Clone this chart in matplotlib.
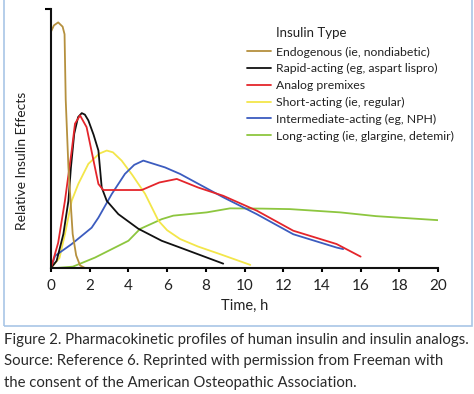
import matplotlib
matplotlib.use('Agg')
from matplotlib import pyplot as plt
from matplotlib.patches import Rectangle

plt.rcParams['font.family'] = ['Lato', 'DejaVu Sans']

# Curves (time in hours, relative effect)
endo_x = [0, 0.15, 0.37, 0.6, 0.7, 0.73, 0.76, 0.9, 1.12, 1.3, 1.5, 1.75]
endo_y = [0.94, 0.965, 0.977, 0.96, 0.93, 0.8, 0.67, 0.4, 0.135, 0.05, 0.01, 0]

rapid_x = [0, 0.29, 0.64, 0.9, 1.03, 1.2, 1.4, 1.59, 1.75, 1.93, 2.2, 2.45, 2.62, 2.88, 3.48,
           4.51, 5.72, 6.67, 8.9]
rapid_y = [0, 0.028, 0.135, 0.267, 0.4, 0.534, 0.6, 0.616, 0.61, 0.587, 0.53, 0.467, 0.32, 0.267, 0.214,
           0.156, 0.108, 0.081, 0.017]

premix_x = [0, 0.37, 0.72, 1.07, 1.24, 1.5, 1.84, 2.27, 2.45, 2.7, 4.69, 5.6, 6.5, 7.6, 8.9,
            10.63, 12.52, 14.76, 16.0]
premix_y = [0, 0.1, 0.267, 0.467, 0.574, 0.607, 0.56, 0.4, 0.334, 0.31, 0.31, 0.34, 0.354, 0.32, 0.287,
            0.228, 0.148, 0.095, 0.045]

short_x = [0, 0.44, 0.72, 1.07, 1.41, 1.93, 2.5, 2.88, 3.2, 3.65, 4.2, 4.86, 5.55, 6.0, 6.67,
           7.6, 8.73, 10.3]
short_y = [0, 0.04, 0.134, 0.267, 0.334, 0.414, 0.455, 0.467, 0.46, 0.427, 0.37, 0.295, 0.188, 0.15, 0.115,
           0.085, 0.055, 0.012]

inter_x = [0, 0.21, 1.07, 2.1, 2.45, 3.14, 3.82, 4.3, 4.77, 5.89, 6.67, 8.9, 10.63, 12.52, 14.76, 15.1]
inter_y = [0, 0.048, 0.095, 0.16, 0.2, 0.294, 0.374, 0.41, 0.427, 0.4, 0.374, 0.281, 0.214, 0.134, 0.081, 0.075]

long_x = [0, 0.3, 1.13, 2.27, 4.0, 4.6, 5.72, 6.32, 8.05, 9.25, 10.9, 12.35, 14.94, 16.8, 20]
long_y = [0, 0, 0.005, 0.041, 0.108, 0.155, 0.194, 0.208, 0.221, 0.237, 0.236, 0.234, 0.221, 0.206, 0.19]

labels = ['Endogenous (ie, nondiabetic)', 'Rapid-acting (eg, aspart lispro)',
          'Analog premixes', 'Short-acting (ie, regular)',
          'Intermediate-acting (eg, NPH)', 'Long-acting (ie, glargine, detemir)']
colors = ['#b5903e', '#111111', '#e4252b', '#f3e64a', '#3c5cbf', '#8dc63f']
xticks = [0, 2, 4, 6, 8, 10, 12, 14, 16, 18, 20]

caption = ['Figure 2. Pharmacokinetic profiles of human insulin and insulin analogs.',
           'Source: Reference 6. Reprinted with permission from Freeman with',
           'the consent of the American Osteopathic Association.']

fig = plt.figure(figsize=(4.74, 3.94), dpi=100)
ax = fig.add_axes([0.1076, 0.32, 0.8165, 0.657])

series = [(endo_x, endo_y), (rapid_x, rapid_y), (premix_x, premix_y),
          (short_x, short_y), (inter_x, inter_y), (long_x, long_y)]
# draw order: long first so the steep ones sit on top
order = [5, 3, 4, 1, 2, 0]
handles = {}
for i in order:
    xs, ys = series[i]
    h, = ax.plot(xs, ys, color=colors[i], lw=1.3, label=labels[i],
                 solid_joinstyle='round', solid_capstyle='round')
    handles[i] = h

ax.set_xlim(0, 20)
ax.set_ylim(0, 1.03)
ax.set_xticks(xticks)
ax.set_xticklabels([str(t) for t in xticks], fontsize=11, color='#222222')
ax.set_yticks([1.03])
ax.set_yticklabels([''])
ax.tick_params(axis='x', direction='out', length=3, width=1.5, pad=5)
ax.tick_params(axis='y', direction='out', length=4, width=1.5)
for s in ['top', 'right']:
    ax.spines[s].set_visible(False)
for s in ['left', 'bottom']:
    ax.spines[s].set_linewidth(1.5)
    ax.spines[s].set_color('#111111')
ax.set_xlabel('Time, h', fontsize=10.5, color='#222222', labelpad=4)
ax.set_ylabel('Relative Insulin Effects', fontsize=10, color='#222222')
ax.yaxis.set_label_coords(-0.06, 0.415)

leg = ax.legend([handles[i] for i in range(6)], labels,
                loc='upper left', bbox_to_anchor=(0.506, 0.855), frameon=False,
                fontsize=8.8, handlelength=2.0, handletextpad=0.4,
                labelspacing=0.47, borderpad=0, borderaxespad=0)
for t in leg.get_texts():
    t.set_color('#222222')
fig.text(276 / 474, 1 - 33 / 394, 'Insulin Type', fontsize=9.5, color='#222222',
         va='center', ha='left')

# light blue frame around the chart panel
fig.patches.append(Rectangle((4 / 474, (394 - 326) / 394), 468 / 474, 0.95,
                             transform=fig.transFigure, fill=False,
                             edgecolor='#a9c6e6', lw=1.2))

for k, line in enumerate(caption):
    fig.text(4 / 474, 1 - (340 + 21.5 * k) / 394, line, fontsize=10.7,
             color='#2a2a2a', va='center', ha='left')

fig.savefig('out.png', dpi=100)
